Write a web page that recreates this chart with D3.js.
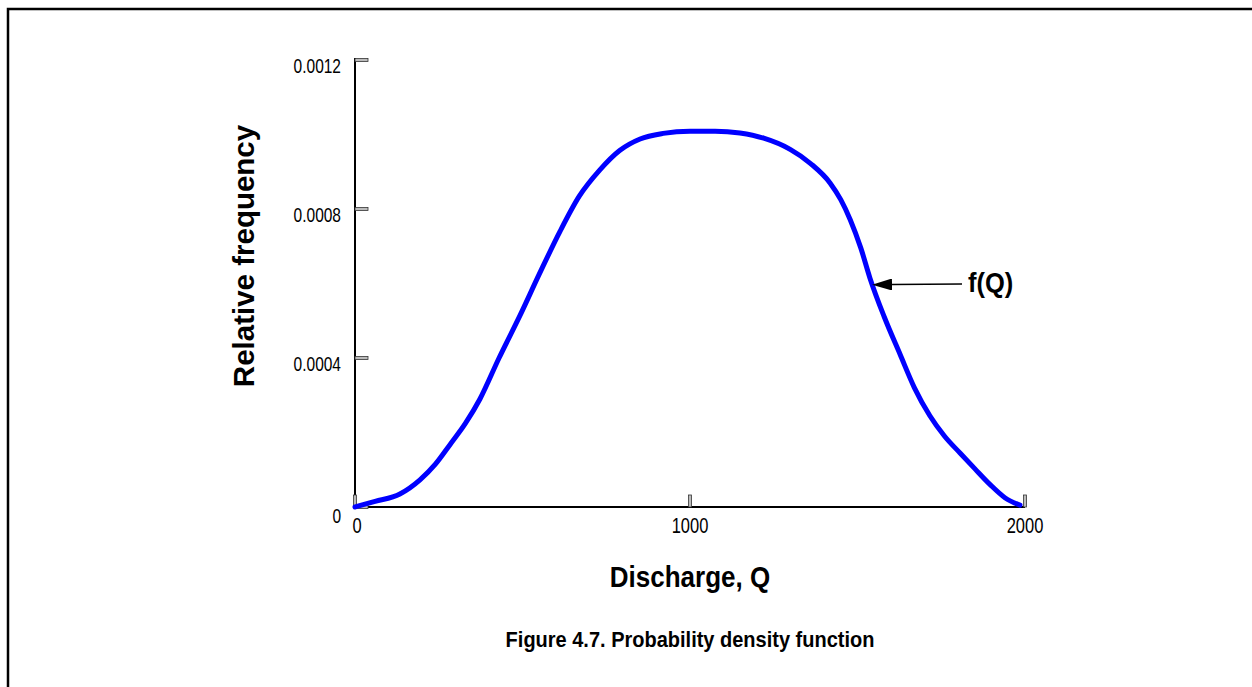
<!DOCTYPE html>
<html>
<head>
<meta charset="utf-8">
<script src="https://cdn.jsdelivr.net/npm/d3@7"></script>
<style>
  body { margin: 0; background: white; }
  text { font-family: "Liberation Sans", Arial, sans-serif; }
</style>
</head>
<body>
<script>
// discharge values (Q) and relative frequency f(Q)
var discharge = [0, 60, 134, 194, 240, 284, 330, 373, 430, 493, 550, 612, 670, 731, 790, 851, 920, 1000, 1075, 1149, 1220, 1299, 1360, 1418, 1450, 1478, 1510, 1537, 1580, 1627, 1670, 1716, 1760, 1806, 1850, 1896, 1940, 1985];
var frequency = [0, 0.000015, 0.000035, 0.000073, 0.000115, 0.000168, 0.000225, 0.00029, 0.0004, 0.000515, 0.000625, 0.00074, 0.000835, 0.000905, 0.000957, 0.000988, 0.001003, 0.001009, 0.001009, 0.001004, 0.00099, 0.00096, 0.000922, 0.00087, 0.000825, 0.000772, 0.000695, 0.000615, 0.00051, 0.00041, 0.00032, 0.000245, 0.00019, 0.000145, 0.000103, 0.00006, 0.000025, 0.000005];
var xTicks = [0, 1000, 2000];
var yTicks = [0, 0.0004, 0.0008, 0.0012];
var yTickLabels = ["0", "0.0004", "0.0008", "0.0012"];

var width = 1252, height = 687;
var stretch = 1.32; // tick labels look taller than they are wide

var svg = d3.select("body").append("svg")
    .attr("width", width)
    .attr("height", height);

// frame
svg.append("path")
    .attr("d", "M8," + height + " V9 H" + width)
    .attr("fill", "none")
    .attr("stroke", "#000")
    .attr("stroke-width", 2.5);

var x = d3.scaleLinear().domain([0, 2000]).range([355, 1025]);
var y = d3.scaleLinear().domain([0, 0.0012]).range([507, 60]);

// axes lines
svg.append("line")
    .attr("x1", x(0)).attr("x2", x(2000))
    .attr("y1", y(0)).attr("y2", y(0))
    .attr("stroke", "#000").attr("stroke-width", 2);
svg.append("line")
    .attr("x1", x(0)).attr("x2", x(0))
    .attr("y1", y(0)).attr("y2", y(0.0012) - 2)
    .attr("stroke", "#000").attr("stroke-width", 2);

// y ticks (small hollow bars pointing inward)
svg.selectAll("rect.ytick")
    .data(yTicks)
    .enter().append("rect")
    .classed("ytick", true)
    .attr("x", x(0))
    .attr("y", d => y(d) - 1.5)
    .attr("width", 13)
    .attr("height", 3)
    .attr("fill", "#bbb")
    .attr("stroke", "#333")
    .attr("stroke-width", 0.8);

svg.selectAll("text.ylab")
    .data(yTicks)
    .enter().append("text")
    .classed("ylab", true)
    .attr("transform", (d, i) => "translate(341," + (i == 0 ? y(d) + 16 : y(d) + 13) + ") scale(1," + stretch + ")")
    .attr("text-anchor", "end")
    .style("font-size", "15.5px")
    .text((d, i) => yTickLabels[i]);

// x ticks
svg.selectAll("rect.xtick")
    .data(xTicks)
    .enter().append("rect")
    .classed("xtick", true)
    .attr("x", d => x(d) - 1.5)
    .attr("y", y(0) - 12)
    .attr("width", 3)
    .attr("height", 12)
    .attr("fill", "#bbb")
    .attr("stroke", "#333")
    .attr("stroke-width", 0.8);

svg.selectAll("text.xlab")
    .data(xTicks)
    .enter().append("text")
    .classed("xlab", true)
    .attr("transform", d => "translate(" + (d == 0 ? x(d) + 2 : x(d)) + ",533) scale(1," + stretch + ")")
    .attr("text-anchor", "middle")
    .style("font-size", "16.5px")
    .text(d => d);

// the curve
var line = d3.line()
    .x((d, i) => x(discharge[i]))
    .y(d => y(d))
    .curve(d3.curveMonotoneX);
svg.append("path")
    .datum(frequency)
    .attr("d", line)
    .attr("fill", "none")
    .attr("stroke", "#0000ff")
    .attr("stroke-width", 5)
    .attr("stroke-linecap", "round");

// arrow annotation
svg.append("defs").append("marker")
    .attr("id", "arrow")
    .attr("viewBox", "0 0 10 10")
    .attr("preserveAspectRatio", "none")
    .attr("refX", 0).attr("refY", 5)
    .attr("markerWidth", 20).attr("markerHeight", 12)
    .attr("markerUnits", "userSpaceOnUse")
    .attr("orient", "auto")
    .append("path")
    .attr("d", "M0,0 L10,5 L0,10 z")
    .attr("fill", "#000");
svg.append("line")
    .attr("x1", 962).attr("y1", 284)
    .attr("x2", 892).attr("y2", 284.5)
    .attr("stroke", "#000")
    .attr("stroke-width", 1.6)
    .attr("marker-end", "url(#arrow)");
svg.append("text")
    .attr("transform", "translate(968,292) scale(1,1.1)")
    .style("font-size", "25.5px")
    .style("font-weight", "bold")
    .text("f(Q)");

// titles
svg.append("text")
    .attr("transform", "translate(254,256) rotate(-90)")
    .attr("text-anchor", "middle")
    .style("font-size", "29.5px")
    .style("font-weight", "bold")
    .text("Relative frequency");
svg.append("text")
    .attr("transform", "translate(690,587) scale(1,1.1)")
    .attr("text-anchor", "middle")
    .style("font-size", "26px")
    .style("font-weight", "bold")
    .text("Discharge, Q");
svg.append("text")
    .attr("transform", "translate(690,647) scale(1,1.1)")
    .attr("text-anchor", "middle")
    .style("font-size", "20px")
    .style("font-weight", "bold")
    .text("Figure 4.7. Probability density function");
</script>
</body>
</html>
